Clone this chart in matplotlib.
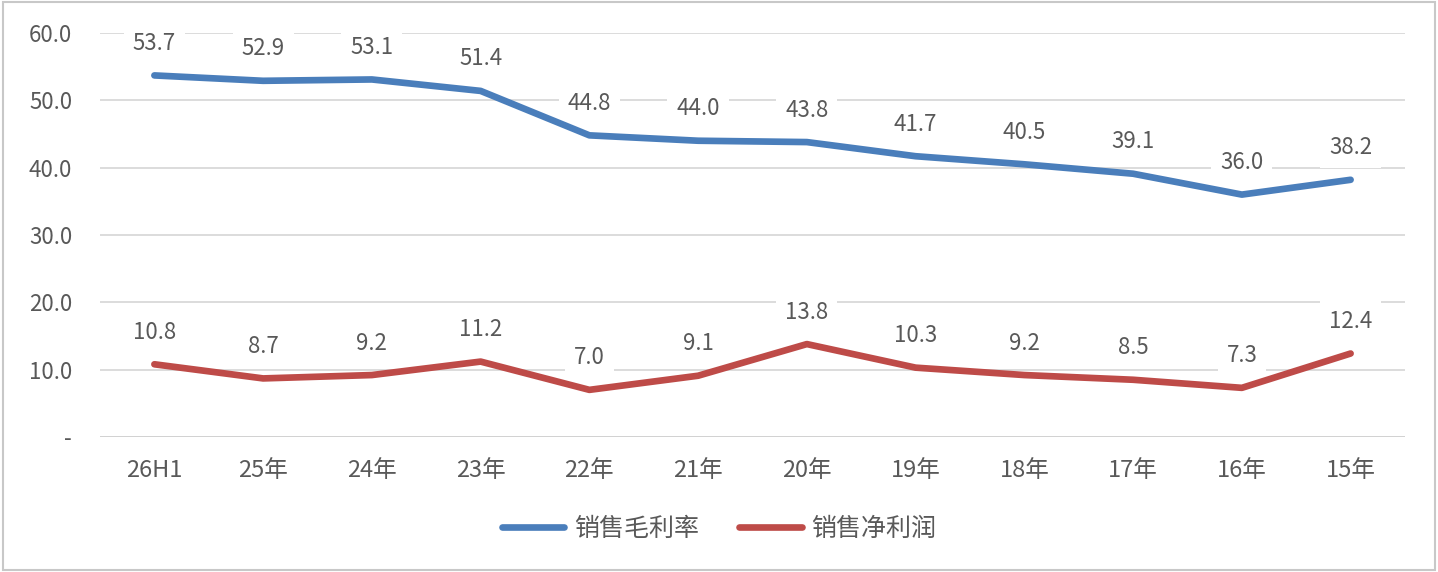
import matplotlib
matplotlib.use("Agg")
import matplotlib.pyplot as plt
from matplotlib.patches import Rectangle

plt.rcParams['font.family'] = ['Noto Sans CJK SC', 'DejaVu Sans']

categories = ["26H1", "25年", "24年", "23年", "22年", "21年", "20年", "19年", "18年", "17年", "16年", "15年"]
gross_margin = [53.7, 52.9, 53.1, 51.4, 44.8, 44.0, 43.8, 41.7, 40.5, 39.1, 36.0, 38.2]
net_margin = [10.8, 8.7, 9.2, 11.2, 7.0, 9.1, 13.8, 10.3, 9.2, 8.5, 7.3, 12.4]
series_names = ["销售毛利率", "销售净利润"]
yticks = [0, 10, 20, 30, 40, 50, 60]
ytick_labels = ["-", "10.0", "20.0", "30.0", "40.0", "50.0", "60.0"]

W, H = 1438, 572
fig = plt.figure(figsize=(W / 100, H / 100), dpi=100)
ax = fig.add_axes([100 / W, 1 - 437 / H, (1405 - 100) / W, (437 - 33) / H])

txt = '#595959'
x = list(range(len(categories)))
blue = "#4A7EBB"
red = "#BE4B48"
l1, = ax.plot(x, gross_margin, color=blue, lw=4.8, solid_joinstyle='round', solid_capstyle='round', zorder=3)
l2, = ax.plot(x, net_margin, color=red, lw=4.8, solid_joinstyle='round', solid_capstyle='round', zorder=3)

for series in (gross_margin, net_margin):
    for xi, v in zip(x, series):
        ax.annotate(f"{v:.1f}", (xi, v), xytext=(0, 23), textcoords='offset points',
                    ha='center', va='center', fontsize=16, color=txt, zorder=2,
                    bbox=dict(boxstyle='square,pad=0.4', fc='white', ec='none'))

ax.set_xlim(-0.5, len(categories) - 0.5)
ax.set_ylim(0, 60)
ax.set_yticks(yticks)
ax.set_yticklabels(ytick_labels)
ax.set_xticks(x)
ax.set_xticklabels(categories)
ax.grid(axis='y', color='#D9D9D9', lw=1.3, zorder=0)
ax.set_axisbelow(True)
ax.tick_params(axis='both', length=0, labelcolor=txt)
ax.tick_params(axis='y', pad=20, labelsize=16)
ax.tick_params(axis='x', pad=16, labelsize=17)
for s in ax.spines.values():
    s.set_visible(False)
ax.axhline(0, color='#D0D0D0', lw=1.8, zorder=1)

fig.legend([l1, l2], series_names, loc='center', bbox_to_anchor=(0.5, 1 - 529 / H),
           ncol=2, frameon=False, fontsize=18, handlelength=2.5, columnspacing=1.6,
           handletextpad=0.4, labelcolor=txt)

fig.patches.append(Rectangle((0.002, 0.003), 0.996, 0.994, transform=fig.transFigure,
                             fill=False, ec='#C8C8C8', lw=1.5))

fig.savefig("out.png", dpi=100)
